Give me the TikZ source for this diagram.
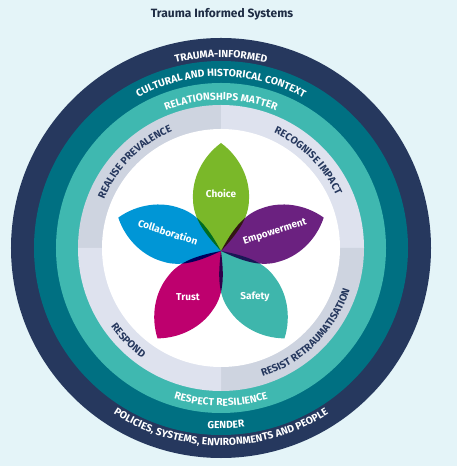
\documentclass[tikz,border=0pt]{standalone}
\usepackage{fontspec}
\setmainfont{Fira Sans}
\usepackage{tikz}
\usetikzlibrary{decorations.text}

\definecolor{bgcyan}{HTML}{E4F4F8}
\definecolor{ringnavy}{HTML}{26385E}
\definecolor{ringteal}{HTML}{007082}
\definecolor{ringmint}{HTML}{3FB8B0}
\definecolor{greydark}{HTML}{CED4E0}
\definecolor{greylight}{HTML}{DEE2EE}
\definecolor{choicegreen}{HTML}{7AB829}
\definecolor{collabblue}{HTML}{0096D6}
\definecolor{empowerpurple}{HTML}{6B2180}
\definecolor{trustmagenta}{HTML}{BE006E}
\definecolor{safetyteal}{HTML}{3EB6AC}
\definecolor{titlenavy}{HTML}{1F2D45}

\newcommand{\ringfont}{\fontsize{10.3bp}{12bp}\selectfont\bfseries}
\newcommand{\petalpath}{(0,0) .. controls (16,15) and (32,28) .. (52,28) .. controls (72,29) and (94,19) .. (108,0) .. controls (94,-19) and (72,-29) .. (52,-28) .. controls (32,-28) and (16,-15) .. (0,0) -- cycle}

\begin{document}
\begin{tikzpicture}[x=1bp, y=1bp,
	ringtext/.style={decorate, decoration={text along path, text align=center, text color=white}},
	greytext/.style={decorate, decoration={text along path, text align=center, text color=ringnavy}},
	petal/.style={blend mode=multiply},
	petallabel/.style={white, font=\fontsize{10bp}{12bp}\selectfont\bfseries, inner sep=0pt}]
	\fill[bgcyan] (-221,-218) rectangle (236,248);
	\node[titlenavy, font=\fontsize{12bp}{14bp}\selectfont\bfseries, anchor=base] (title) at (1,230.5) {Trauma Informed Systems};
	\fill[ringnavy] (0,0) circle (210bp);
	\fill[ringteal] (0,0) circle (187bp);
	\fill[ringmint] (0,0) circle (165bp);
	\fill[greydark] (0,0) -- (180:143) arc[start angle=180, end angle=90, radius=143bp] -- cycle;
	\fill[greylight] (0,0) -- (90:143) arc[start angle=90, end angle=0, radius=143bp] -- cycle;
	\fill[greydark] (0,0) -- (0:143) arc[start angle=0, end angle=-90, radius=143bp] -- cycle;
	\fill[greylight] (0,0) -- (-90:143) arc[start angle=-90, end angle=-180, radius=143bp] -- cycle;
	\fill[white] (0,0) circle (119bp);
	\path[ringtext, decoration={text={|\ringfont|TRAUMA-INFORMED}}] (170:190.5) arc[start angle=170, end angle=10, radius=190.5bp];
	\path[ringtext, decoration={text={|\ringfont|CULTURAL AND HISTORICAL CONTEXT}}] (170:171.5) arc[start angle=170, end angle=10, radius=171.5bp];
	\path[ringtext, decoration={text={|\ringfont|RELATIONSHIPS MATTER}}] (170:148) arc[start angle=170, end angle=10, radius=148bp];
	\path[ringtext, decoration={text={|\ringfont|RESPECT RESILIENCE}}] (190:158) arc[start angle=190, end angle=350, radius=158bp];
	\path[ringtext, decoration={text={|\ringfont|GENDER}}] (191.6:180.5) arc[start angle=191.6, end angle=351.6, radius=180.5bp];
	\path[ringtext, decoration={text={|\ringfont|POLICIES, SYSTEMS, ENVIRONMENTS AND PEOPLE}}] (190:197.5) arc[start angle=190, end angle=350, radius=197.5bp];
	\path[greytext, decoration={text={|\ringfont|REALISE PREVALENCE}}] (210:126.5) arc[start angle=210, end angle=60, radius=126.5bp];
	\path[greytext, decoration={text={|\ringfont|RECOGNISE IMPACT}}] (120:126.5) arc[start angle=120, end angle=-30, radius=126.5bp];
	\path[greytext, decoration={text={|\ringfont|RESIST RETRAUMATISATION}}] (-120:135.5) arc[start angle=-120, end angle=30, radius=135.5bp];
	\path[greytext, decoration={text={|\ringfont|RESPOND}}] (150:135.5) arc[start angle=150, end angle=300, radius=135.5bp];
	\coordinate (F) at (0,-3);
	\fill[petal, choicegreen, shift={(F)}, rotate=90] \petalpath;
	\fill[petal, collabblue, shift={(F)}, rotate=162] \petalpath;
	\fill[petal, trustmagenta, shift={(F)}, rotate=234] \petalpath;
	\fill[petal, safetyteal, shift={(F)}, rotate=306] \petalpath;
	\fill[petal, empowerpurple, shift={(F)}, rotate=18] \petalpath;
	\node[petallabel] (choice) at (0,54) {Choice};
	\node[petallabel, rotate=-18] (collab) at (-53,16) {Collaboration};
	\node[petallabel, rotate=18] (empower) at (54,16) {Empowerment};
	\node[petallabel] (trust) at (-33,-49) {Trust};
	\node[petallabel] (safety) at (34,-49) {Safety};
\end{tikzpicture}
\end{document}
